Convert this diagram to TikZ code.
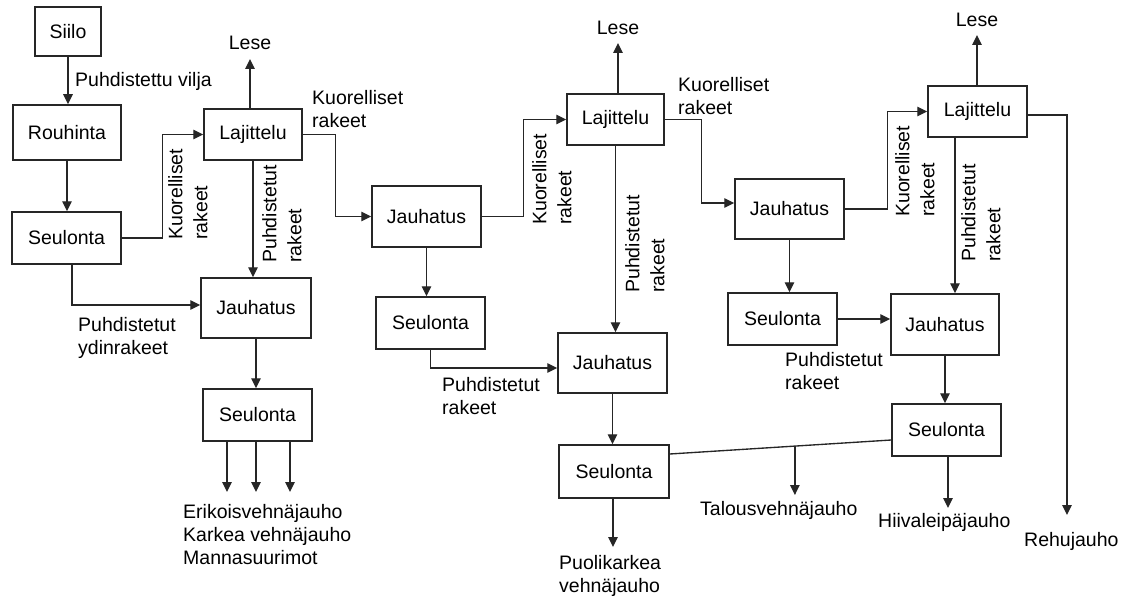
\documentclass[tikz,border=0pt]{standalone}
\usepackage{fontspec}
\setmainfont{Liberation Sans}
\usetikzlibrary{arrows.meta}
\newcommand\myfs{\fontsize{19.5}{23}\selectfont}
\newcommand\myfsr{\fontsize{19.5}{25}\selectfont}
\begin{document}
\begin{tikzpicture}[x=1pt,y=-1pt,
  box/.style={draw=black!85, line width=1.5pt, inner sep=0pt, font=\myfs},
  arr/.style={draw=black!85, line width=1.35pt, -{Triangle[length=10pt,width=9.5pt]}},
  ln/.style={draw=black!85, line width=1.35pt},
  lbl/.style={anchor=north west, align=left, inner sep=0pt, font=\myfs},
  rlbl/.style={anchor=north west, align=left, inner sep=0pt, rotate=90, font=\myfsr},
  lese/.style={anchor=base, inner sep=0pt, font=\myfs}]
\useasboundingbox (0,0) rectangle (1127,599);
% boxes
\node[box, minimum width=66pt, minimum height=49pt] (siilo) at (68,31.5) {Siilo};
\node[box, minimum width=108pt, minimum height=55pt] (rouh) at (67,132.5) {Rouhinta};
\node[box, minimum width=109pt, minimum height=52pt] (seul1) at (66.5,238) {Seulonta};
\node[box, minimum width=98pt, minimum height=51pt] (laj1) at (253,134.5) {Lajittelu};
\node[box, minimum width=110pt, minimum height=60pt] (jau1) at (256,308) {Jauhatus};
\node[box, minimum width=109pt, minimum height=52pt] (seul2) at (257.5,415) {Seulonta};
\node[box, minimum width=109pt, minimum height=61pt] (jau2) at (426.5,216.5) {Jauhatus};
\node[box, minimum width=97pt, minimum height=51pt] (laj2) at (615.5,119.5) {Lajittelu};
\node[box, minimum width=109pt, minimum height=52pt] (seul3) at (430.5,323) {Seulonta};
\node[box, minimum width=109pt, minimum height=60pt] (jau3) at (612.5,363) {Jauhatus};
\node[box, minimum width=110pt, minimum height=53pt] (seul4) at (614,471.5) {Seulonta};
\node[box, minimum width=109pt, minimum height=60pt] (jau4) at (789.5,209) {Jauhatus};
\node[box, minimum width=99pt, minimum height=51pt] (laj3) at (977.5,111.5) {Lajittelu};
\node[box, minimum width=109pt, minimum height=52pt] (seul5) at (782.5,319) {Seulonta};
\node[box, minimum width=108pt, minimum height=61pt] (jau5) at (945,324.5) {Jauhatus};
\node[box, minimum width=109pt, minimum height=52pt] (seul6) at (946.5,430) {Seulonta};
% Lese labels
\node[lese] (lese1) at (250,50) {Lese};
\node[lese] (lese2) at (618,35) {Lese};
\node[lese] (lese3) at (977,27) {Lese};
% horizontal labels
\node[lbl] (l1) at (75,72) {Puhdistettu vilja};
\node[lbl] (l2) at (312,90) {Kuorelliset\\rakeet};
\node[lbl] (l3) at (78,317) {Puhdistetut\\ydinrakeet};
\node[lbl] (l4) at (442,377) {Puhdistetut\\rakeet};
\node[lbl] (l5) at (678,77) {Kuorelliset\\rakeet};
\node[lbl] (l6) at (785,352) {Puhdistetut\\rakeet};
\node[lbl] (out1) at (183,504) {Erikoisvehnäjauho\\Karkea vehnäjauho\\Mannasuurimot};
\node[lbl] (out2) at (559,555) {Puolikarkea\\vehnäjauho};
\node[lbl] (out3) at (700,501) {Talousvehnäjauho};
\node[lbl] (out4) at (878,513) {Hiivaleipäjauho};
\node[lbl] (out5) at (1024,532) {Rehujauho};
% rotated labels
\node[rlbl] (r1) at (168,240) {Kuorelliset\\rakeet};
\node[rlbl] (r2) at (262,263) {Puhdistetut\\rakeet};
\node[rlbl] (r3) at (532,225) {Kuorelliset\\rakeet};
\node[rlbl] (r4) at (625,293) {Puhdistetut\\rakeet};
\node[rlbl] (r5) at (895,217) {Kuorelliset\\rakeet};
\node[rlbl] (r6) at (961,262) {Puhdistetut\\rakeet};
% arrow end coordinates
\coordinate (e1) at (227,492);
\coordinate (e2) at (256,492);
\coordinate (e3) at (290,492);
\coordinate (pe) at (613,547);
\coordinate (te) at (795,495);
\coordinate (he) at (948,508);
\coordinate (re) at (1067,515);
% connectors
\draw[arr] (siilo.south) -- (siilo.south |- rouh.north);
\draw[arr] (rouh.south) -- (rouh.south |- seul1.north);
\draw[arr] (seul1.east) -- ++(41,0) |- (laj1.west);
\draw[arr] ([xshift=5.5pt]seul1.south) |- ([yshift=3pt]jau1.west);
\draw[arr] (laj1.north -| lese1) -- ([yshift=-9pt]lese1.base);
\draw[arr] (laj1.south) -- (laj1.south |- jau1.north);
\draw[arr] (laj1.east) -- ++(33,0) |- (jau2.west);
\draw[arr] (jau1.south) -- (jau1.south |- seul2.north);
\draw[arr] (seul2.south -| e1) -- (e1);
\draw[arr] (seul2.south -| e2) -- (e2);
\draw[arr] (seul2.south -| e3) -- (e3);
\draw[arr] (jau2.east) -- ++(42,0) |- (laj2.west);
\draw[arr] (jau2.south) -- (jau2.south |- seul3.north);
\draw[arr] (laj2.north -| lese2) -- ([yshift=-8pt]lese2.base);
\draw[arr] (laj2.south) -- (laj2.south |- jau3.north);
\draw[arr] (laj2.east) -- ++(37,0) |- ([yshift=6pt]jau4.west);
\draw[arr] (seul3.south) |- ([yshift=-5pt]jau3.west);
\draw[arr] (jau3.south) -- (jau3.south |- seul4.north);
\draw[arr] (seul4.south -| pe) -- (pe);
\draw[ln] ([yshift=17.5pt]seul4.east) -- coordinate[pos=0.565] (br) ([yshift=-10pt]seul6.west);
\draw[arr] (br) -- (br |- te);
\draw[arr] (jau4.south) -- (jau4.south |- seul5.north);
\draw[arr] (jau4.east) -- ++(43,0) |- (laj3.west);
\draw[arr] (laj3.north -| lese3) -- ([yshift=-8pt]lese3.base);
\draw[arr] ([xshift=-22.5pt]laj3.south) -- ([xshift=-22.5pt]laj3.south |- jau5.north);
\draw[arr] ([yshift=-3.5pt]laj3.east) -| (re);
\draw[arr] (seul5.east) -- (seul5.east -| jau5.west);
\draw[arr] (jau5.south) -- (jau5.south |- seul6.north);
\draw[arr] (seul6.south -| he) -- (he);
\end{tikzpicture}
\end{document}
